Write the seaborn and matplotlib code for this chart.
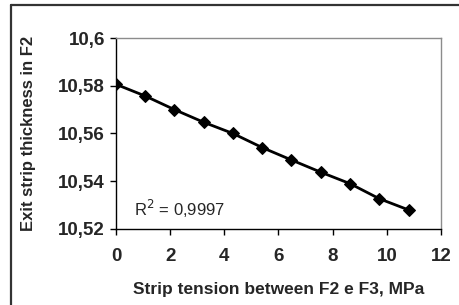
import matplotlib
matplotlib.use('Agg')
import matplotlib.pyplot as plt
from matplotlib.lines import Line2D
import seaborn as sns
import pandas as pd

# strip tension between F2 and F3 (MPa) vs exit strip thickness in F2
tension = [0, 1.08, 2.16, 3.24, 4.32, 5.40, 6.48, 7.56, 8.64, 9.72, 10.80]
thickness = [10.5806, 10.5757, 10.5700, 10.5647, 10.5600, 10.5541,
             10.5489, 10.5438, 10.5390, 10.5327, 10.5280]
x_ticks = [0, 2, 4, 6, 8, 10, 12]
y_ticks = [10.52, 10.54, 10.56, 10.58, 10.6]
y_tick_labels = ['10,52', '10,54', '10,56', '10,58', '10,6']

sns.set_style('white')
plt.rcParams['font.family'] = ['Liberation Sans', 'DejaVu Sans']

df = pd.DataFrame({'tension': tension, 'thickness': thickness})

fig = plt.figure(figsize=(4.59, 3.05), dpi=100)
ax = fig.add_axes([0.2527, 0.2492, 0.7081, 0.6262])

sns.lineplot(data=df, x='tension', y='thickness', ax=ax, color='black',
             linewidth=2.0, marker='D', markersize=6, markeredgecolor='black')

ax.set_xlim(0, 12)
ax.set_ylim(10.52, 10.6)
ax.set_xticks(x_ticks)
ax.set_xticklabels([str(t) for t in x_ticks], fontsize=13.5, fontweight='bold')
ax.set_yticks(y_ticks)
ax.set_yticklabels(y_tick_labels, fontsize=13.5, fontweight='bold')
ax.tick_params(axis='both', direction='out', length=4, width=1, color='black',
               bottom=True, left=True)
ax.tick_params(axis='x', pad=10)
ax.tick_params(axis='y', pad=4)

for side in ['left', 'bottom']:
    ax.spines[side].set_color('black')
    ax.spines[side].set_linewidth(1)
for side in ['top', 'right']:
    ax.spines[side].set_color('#8c8c8c')
    ax.spines[side].set_linewidth(1)

ax.set_xlabel('Strip tension between F2 e F3, MPa', fontsize=12.5, fontweight='bold')
ax.set_ylabel('Exit strip thickness in F2', fontsize=12, fontweight='bold')
ax.xaxis.set_label_coords(0.5, -0.275)
ax.yaxis.set_label_coords(-0.245, 0.5)

ax.text(0.66, 10.5284, r'R$^2$ = 0,9997', fontsize=12, va='center', ha='left')

# outer chart frame (left and top edges visible)
fig.add_artist(Line2D([11 / 459, 11 / 459], [0, 1 - 5 / 305], transform=fig.transFigure,
                      color='#333333', linewidth=1.6))
fig.add_artist(Line2D([11 / 459, 1], [1 - 5 / 305, 1 - 5 / 305], transform=fig.transFigure,
                      color='#333333', linewidth=1.6))

fig.savefig('out.png', dpi=100)
